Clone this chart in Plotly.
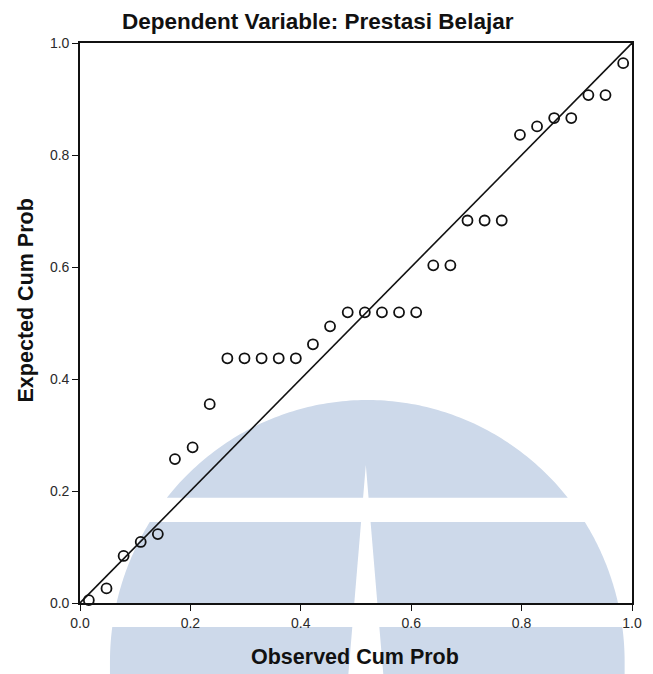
import numpy as np
import plotly.graph_objects as go

# Normal P-P plot of regression standardized residuals
observed_cum_prob = [
    0.016, 0.048, 0.079, 0.110, 0.141, 0.172, 0.204, 0.235,
    0.267, 0.298, 0.329, 0.360, 0.391, 0.422, 0.453, 0.485,
    0.516, 0.547, 0.578, 0.609, 0.640, 0.671, 0.702, 0.733,
    0.764, 0.797, 0.828, 0.859, 0.890, 0.921, 0.952, 0.984,
]
expected_cum_prob = [
    0.005, 0.026, 0.084, 0.109, 0.123, 0.257, 0.278, 0.355,
    0.437, 0.437, 0.437, 0.437, 0.437, 0.462, 0.494, 0.519,
    0.519, 0.519, 0.519, 0.519, 0.603, 0.603, 0.683, 0.683,
    0.683, 0.836, 0.851, 0.866, 0.866, 0.907, 0.907, 0.964,
]
reference_line = [0.0, 1.0]
tick_values = [0.0, 0.2, 0.4, 0.6, 0.8, 1.0]
tick_labels = ["0.0", "0.2", "0.4", "0.6", "0.8", "1.0"]

title_text = "Dependent Variable: Prestasi Belajar"
x_title = "Observed Cum Prob"
y_title = "Expected Cum Prob"

W, H = 653, 674
X0, X1 = 79.5, 641.5   # plot area, pixels
Y1, Y0 = 43.0, 603.0

FONT = "Liberation Sans, Arial, sans-serif"
MARK = "#cdd9ea"


def to_paper(px, py):
    return (px - X0) / (X1 - X0), (Y0 - py) / (Y0 - Y1)


def path_from(points):
    pts = [to_paper(px, py) for px, py in points]
    return "M " + " L ".join(f"{x:.5f},{y:.5f}" for x, y in pts) + " Z"


# background emblem: a dome cut by two horizontal bands and a tapering spike
CX, CY, R = 372.0, 662.0, 262.0
SPIKE_CX, SPIKE_TOP, SPIKE_K = 370.5, 465.0, 0.085
BAND1 = (497.7, 522.0)
BAND2 = (603.0, 627.0)
BOTTOM = 700.0


def half_width(y):
    if y >= CY:
        return R
    return float(np.sqrt(max(R * R - (y - CY) ** 2, 0.0)))


def spike(y):
    h = SPIKE_K * (y - SPIKE_TOP)
    return SPIKE_CX - h, SPIKE_CX + h


def edge(y_from, y_to, side, n=40):
    pts = []
    for y in np.linspace(y_from, y_to, n):
        pts.append((CX + side * half_width(y), y))
    return pts


shapes = []

# top cap
ang0 = np.arcsin((CY - BAND1[0]) / R)
phis = np.linspace(np.pi - ang0, ang0, 120)
cap = [(CX + R * np.cos(p), CY - R * np.sin(p)) for p in phis]
sl, sr = spike(BAND1[0])
cap += [(sr, BAND1[0]), (SPIKE_CX, SPIKE_TOP), (sl, BAND1[0])]
shapes.append(path_from(cap))

# middle and bottom blocks, left and right of the spike
for (ya, yb) in [(BAND1[1], BAND2[0]), (BAND2[1], BOTTOM)]:
    for side in (-1, 1):
        pts = edge(ya, min(yb, CY), side)
        if yb > CY:
            pts.append((CX + side * R, yb))
        sa = spike(ya)[0 if side < 0 else 1]
        sb = spike(yb)[0 if side < 0 else 1]
        pts += [(sb, yb), (sa, ya)]
        shapes.append(path_from(pts))

fig = go.Figure()

fig.add_trace(go.Scatter(
    x=reference_line, y=reference_line, mode="lines",
    line=dict(color="#111111", width=1.6),
    hoverinfo="skip", showlegend=False,
))
fig.add_trace(go.Scatter(
    x=observed_cum_prob, y=expected_cum_prob, mode="markers",
    marker=dict(symbol="circle-open", size=10, color="#111111",
                line=dict(width=1.8, color="#111111")),
    cliponaxis=False, showlegend=False,
))

for p in shapes:
    fig.add_shape(type="path", path=p, xref="paper", yref="paper",
                  fillcolor=MARK, line=dict(width=0), layer="below")

axis_common = dict(
    range=[0, 1], tickvals=tick_values, ticktext=tick_labels,
    showgrid=False, zeroline=False, showline=True, mirror=True,
    linecolor="#111111", linewidth=1.6,
    ticks="outside", ticklen=6, tickwidth=1.3, tickcolor="#111111",
    tickfont=dict(family=FONT, size=14, color="#2a2a2a"),
    fixedrange=True,
)
fig.update_xaxes(**axis_common)
fig.update_yaxes(**axis_common)

tx, ty = to_paper(322, 22)
xx, xy = to_paper(359, 657)
yx, yy = to_paper(25, 300)
fig.add_annotation(text=title_text, x=tx, y=ty, xref="paper", yref="paper",
                   showarrow=False, xanchor="center", yanchor="middle",
                   font=dict(family=FONT, size=22.5, color="#111111", weight="bold"))
fig.add_annotation(text=x_title, x=xx, y=xy, xref="paper", yref="paper",
                   showarrow=False, xanchor="center", yanchor="middle",
                   font=dict(family=FONT, size=21.5, color="#111111", weight="bold"))
fig.add_annotation(text=y_title, x=yx, y=yy, xref="paper", yref="paper",
                   showarrow=False, xanchor="center", yanchor="middle", textangle=-90,
                   font=dict(family=FONT, size=21.5, color="#111111", weight="bold"))

fig.update_layout(
    width=W, height=H,
    margin=dict(l=X0, r=W - X1, t=Y1, b=H - Y0, pad=0),
    paper_bgcolor="white", plot_bgcolor="rgba(0,0,0,0)",
    showlegend=False,
)

fig.write_html("out.html", config={"displayModeBar": False})
